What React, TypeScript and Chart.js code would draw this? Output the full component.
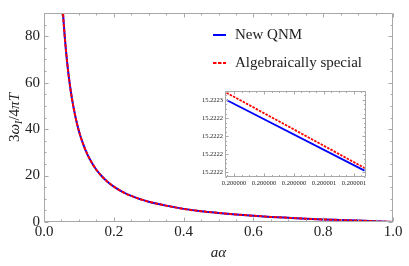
import React, { useEffect, useRef } from "react";
import { Chart, registerables } from "chart.js";

Chart.register(...registerables);

// ---- main chart data ----
const aAlpha = [
  0.048, 0.054, 0.06, 0.066, 0.073, 0.08, 0.09, 0.1, 0.113, 0.125, 0.137, 0.15,
  0.165, 0.18, 0.2, 0.225, 0.25, 0.275, 0.3, 0.35, 0.4, 0.45, 0.5, 0.55, 0.6,
  0.65, 0.7, 0.75, 0.8, 0.85, 0.9, 0.95, 1.0,
];
const newQnm = [
  106.9, 91.0, 78.8, 69.2, 60.3, 53.2, 45.3, 39.2, 33.2, 28.9, 25.5, 22.5, 19.8,
  17.6, 15.22, 12.96, 11.22, 9.85, 8.75, 7.05, 5.65, 4.65, 3.9, 3.25, 2.7, 2.2,
  1.8, 1.42, 1.1, 0.85, 0.6, 0.32, 0.0,
];
const algebraicallySpecial = [
  106.9, 91.0, 78.8, 69.2, 60.3, 53.2, 45.3, 39.2, 33.2, 28.9, 25.5, 22.5, 19.8,
  17.6, 15.22, 12.96, 11.22, 9.85, 8.75, 7.05, 5.65, 4.65, 3.9, 3.25, 2.7, 2.2,
  1.8, 1.42, 1.1, 0.85, 0.6, 0.32, 0.0,
];
const xTicks = [0, 0.2, 0.4, 0.6, 0.8, 1.0];
const yTicks = [0, 20, 40, 60, 80];

// ---- inset data ----
const insetX = [0.19999995, 0.20000087];
const insetNewQnm = [15.22226, 15.222182];
const insetAlgSpecial = [15.222268, 15.222185];
const insetXTicks = [0.2, 0.2000002, 0.2000004, 0.2000006, 0.2000008];
const insetYTicks = [15.22218, 15.2222, 15.22222, 15.22224, 15.22226];

const SERIF = "'Liberation Serif', 'Times New Roman', serif";
const BLUE = "#0000ff";
const RED = "#ff0000";
const TEXT = "#222222";
const FRAME = "#a8a8a8";

const frameTicks = {
  id: "frameTicks",
  afterDraw(chart: any, _args: any, opts: any) {
    const { ctx, chartArea: a } = chart;
    const xs = chart.scales.x;
    const ys = chart.scales.y;
    ctx.save();
    ctx.strokeStyle = opts.color;
    ctx.lineWidth = 1;
    const L = Math.round(a.left) + 0.5;
    const R = Math.round(a.right) - 0.5;
    const T = Math.round(a.top) + 0.5;
    const B = Math.round(a.bottom) - 0.5;
    ctx.beginPath();
    ctx.rect(L, T, R - L, B - T);
    ctx.stroke();
    const marks = (scale: any, n: number) => {
      const t = scale.ticks.map((k: any) => k.value);
      const step = t[1] - t[0];
      const sub = step / n;
      const out: { v: number; major: boolean }[] = [];
      for (let i = -n; i <= (t.length + 1) * n; i++) {
        const v = t[0] + i * sub;
        const eps = sub * 1e-3;
        if (v < scale.min - eps || v > scale.max + eps) continue;
        out.push({ v, major: i % n === 0 });
      }
      return out;
    };
    ctx.beginPath();
    for (const m of marks(xs, opts.xSub)) {
      const px = Math.round(xs.getPixelForValue(m.v)) + 0.5;
      const len = m.major ? opts.major : opts.minor;
      ctx.moveTo(px, B);
      ctx.lineTo(px, B - len);
      ctx.moveTo(px, T);
      ctx.lineTo(px, T + len);
    }
    for (const m of marks(ys, opts.ySub)) {
      const py = Math.round(ys.getPixelForValue(m.v)) + 0.5;
      const len = m.major ? opts.major : opts.minor;
      ctx.moveTo(L, py);
      ctx.lineTo(L + len, py);
      ctx.moveTo(R, py);
      ctx.lineTo(R - len, py);
    }
    ctx.stroke();
    ctx.restore();
  },
};

const lineLegend = {
  id: "lineLegend",
  afterDraw(chart: any, _args: any, opts: any) {
    const { ctx } = chart;
    ctx.save();
    chart.data.datasets.forEach((ds: any, i: number) => {
      const y = opts.rows[i];
      ctx.strokeStyle = ds.borderColor;
      ctx.lineWidth = ds.borderWidth;
      ctx.setLineDash(ds.borderDash || []);
      ctx.beginPath();
      ctx.moveTo(opts.x0, y);
      ctx.lineTo(opts.x1, y);
      ctx.stroke();
      ctx.setLineDash([]);
      ctx.fillStyle = opts.color;
      ctx.font = opts.font;
      ctx.textAlign = "left";
      ctx.textBaseline = "middle";
      ctx.fillText(ds.label, opts.textX, y);
    });
    ctx.restore();
  },
};

const yTitle = {
  id: "yTitle",
  afterDraw(chart: any, _args: any, opts: any) {
    const { ctx, chartArea: a } = chart;
    const pieces = opts.pieces as { t: string; italic: boolean; sub?: boolean }[];
    const fontFor = (p: any) =>
      `${p.italic ? "italic " : ""}${p.sub ? opts.subSize : opts.size}px ${SERIF}`;
    ctx.save();
    let total = 0;
    const widths = pieces.map((p) => {
      ctx.font = fontFor(p);
      const w = ctx.measureText(p.t).width;
      total += w;
      return w;
    });
    ctx.translate(opts.x, (a.top + a.bottom) / 2);
    ctx.rotate(-Math.PI / 2);
    ctx.fillStyle = opts.color;
    ctx.textBaseline = "alphabetic";
    ctx.textAlign = "left";
    let cx = -total / 2;
    pieces.forEach((p, i) => {
      ctx.font = fontFor(p);
      ctx.fillText(p.t, cx, opts.baseline + (p.sub ? opts.subShift : 0));
      cx += widths[i];
    });
    ctx.restore();
  },
};

export default function App() {
  const mainRef = useRef<HTMLCanvasElement>(null);
  const insetRef = useRef<HTMLCanvasElement>(null);

  useEffect(() => {
    const main = new Chart(mainRef.current as HTMLCanvasElement, {
      type: "line",
      data: {
        datasets: [
          {
            label: "New QNM",
            data: aAlpha.map((x, i) => ({ x, y: newQnm[i] })),
            borderColor: BLUE,
            borderWidth: 2,
            pointRadius: 0,
            order: 1,
            cubicInterpolationMode: "monotone",
          },
          {
            label: "Algebraically special",
            data: aAlpha.map((x, i) => ({ x, y: algebraicallySpecial[i] })),
            borderColor: RED,
            borderWidth: 2,
            borderDash: [3.5, 1.5],
            pointRadius: 0,
            order: 0,
            cubicInterpolationMode: "monotone",
          },
        ],
      },
      options: {
        responsive: false,
        animation: false,
        events: [],
        layout: { padding: { left: 0, top: 6, right: 16, bottom: 0 } },
        scales: {
          x: {
            type: "linear",
            min: 0,
            max: 1,
            afterBuildTicks: (s: any) => {
              s.ticks = xTicks.map((v) => ({ value: v }));
            },
            afterFit: (s: any) => {
              s.height = 44;
            },
            grid: { display: false, drawTicks: false },
            border: { display: false },
            ticks: {
              padding: 1,
              color: TEXT,
              autoSkip: false,
              maxRotation: 0,
              font: { family: SERIF, size: 15 },
              callback: (v: any) => Number(v).toFixed(1),
            },
            title: {
              display: true,
              text: "aα",
              color: TEXT,
              font: { family: SERIF, size: 15, style: "italic" },
              padding: { top: 0, bottom: 4 },
            },
          },
          y: {
            type: "linear",
            min: 0,
            max: 90,
            afterBuildTicks: (s: any) => {
              s.ticks = yTicks.map((v) => ({ value: v }));
            },
            afterFit: (s: any) => {
              s.width = 44;
            },
            grid: { display: false, drawTicks: false },
            border: { display: false },
            ticks: {
              padding: 4,
              color: TEXT,
              autoSkip: false,
              font: { family: SERIF, size: 15 },
              callback: (v: any) => String(Math.round(Number(v))),
            },
          },
        },
        plugins: {
          legend: { display: false },
          tooltip: { enabled: false },
          frameTicks: { color: FRAME, major: 4, minor: 2, xSub: 4, ySub: 4 },
          lineLegend: {
            x0: 213,
            x1: 226,
            textX: 235,
            rows: [35, 63],
            color: TEXT,
            font: `15px ${SERIF}`,
          },
          yTitle: {
            x: 14,
            size: 15,
            subSize: 10,
            subShift: 3,
            baseline: 5,
            color: TEXT,
            pieces: [
              { t: "3", italic: false },
              { t: "ω", italic: true },
              { t: "I", italic: true, sub: true },
              { t: "/4", italic: false },
              { t: "π", italic: true },
              { t: "T", italic: true },
            ],
          },
        } as any,
      },
      plugins: [frameTicks, lineLegend, yTitle],
    } as any);

    const inset = new Chart(insetRef.current as HTMLCanvasElement, {
      type: "line",
      data: {
        datasets: [
          {
            label: "New QNM",
            data: insetX.map((x, i) => ({ x, y: insetNewQnm[i] })),
            borderColor: BLUE,
            borderWidth: 1.8,
            pointRadius: 0,
            order: 1,
          },
          {
            label: "Algebraically special",
            data: insetX.map((x, i) => ({ x, y: insetAlgSpecial[i] })),
            borderColor: RED,
            borderWidth: 1.8,
            borderDash: [2.5, 1.2],
            pointRadius: 0,
            order: 0,
          },
        ],
      },
      options: {
        responsive: false,
        animation: false,
        events: [],
        layout: { padding: { left: 0, top: 5, right: 4, bottom: 0 } },
        scales: {
          x: {
            type: "linear",
            min: 0.19999994,
            max: 0.20000088,
            afterBuildTicks: (s: any) => {
              s.ticks = insetXTicks.map((v) => ({ value: v }));
            },
            afterFit: (s: any) => {
              s.height = 13;
            },
            grid: { display: false, drawTicks: false },
            border: { display: false },
            ticks: {
              padding: 2,
              color: TEXT,
              autoSkip: false,
              maxRotation: 0,
              font: { family: SERIF, size: 6.5 },
              callback: (v: any) => Number(v).toFixed(6),
            },
          },
          y: {
            type: "linear",
            min: 15.222175,
            max: 15.22227,
            afterBuildTicks: (s: any) => {
              s.ticks = insetYTicks.map((v) => ({ value: v }));
            },
            afterFit: (s: any) => {
              s.width = 30;
            },
            grid: { display: false, drawTicks: false },
            border: { display: false },
            ticks: {
              padding: 2,
              color: TEXT,
              autoSkip: false,
              font: { family: SERIF, size: 6.5 },
              callback: (v: any) => Number(v).toFixed(4),
            },
          },
        },
        plugins: {
          legend: { display: false },
          tooltip: { enabled: false },
          frameTicks: { color: FRAME, major: 3, minor: 1.5, xSub: 4, ySub: 4 },
        } as any,
      },
      plugins: [frameTicks],
    } as any);

    return () => {
      main.destroy();
      inset.destroy();
    };
  }, []);

  return (
    <div
      style={{
        position: "fixed",
        left: 0,
        top: 0,
        width: 409,
        height: 266,
        background: "#ffffff",
      }}
    >
      <canvas
        ref={mainRef}
        width={409}
        height={266}
        style={{ position: "absolute", left: 0, top: 0, width: 409, height: 266 }}
      />
      <canvas
        ref={insetRef}
        width={175}
        height={105}
        style={{ position: "absolute", left: 195, top: 85, width: 175, height: 105 }}
      />
    </div>
  );
}
